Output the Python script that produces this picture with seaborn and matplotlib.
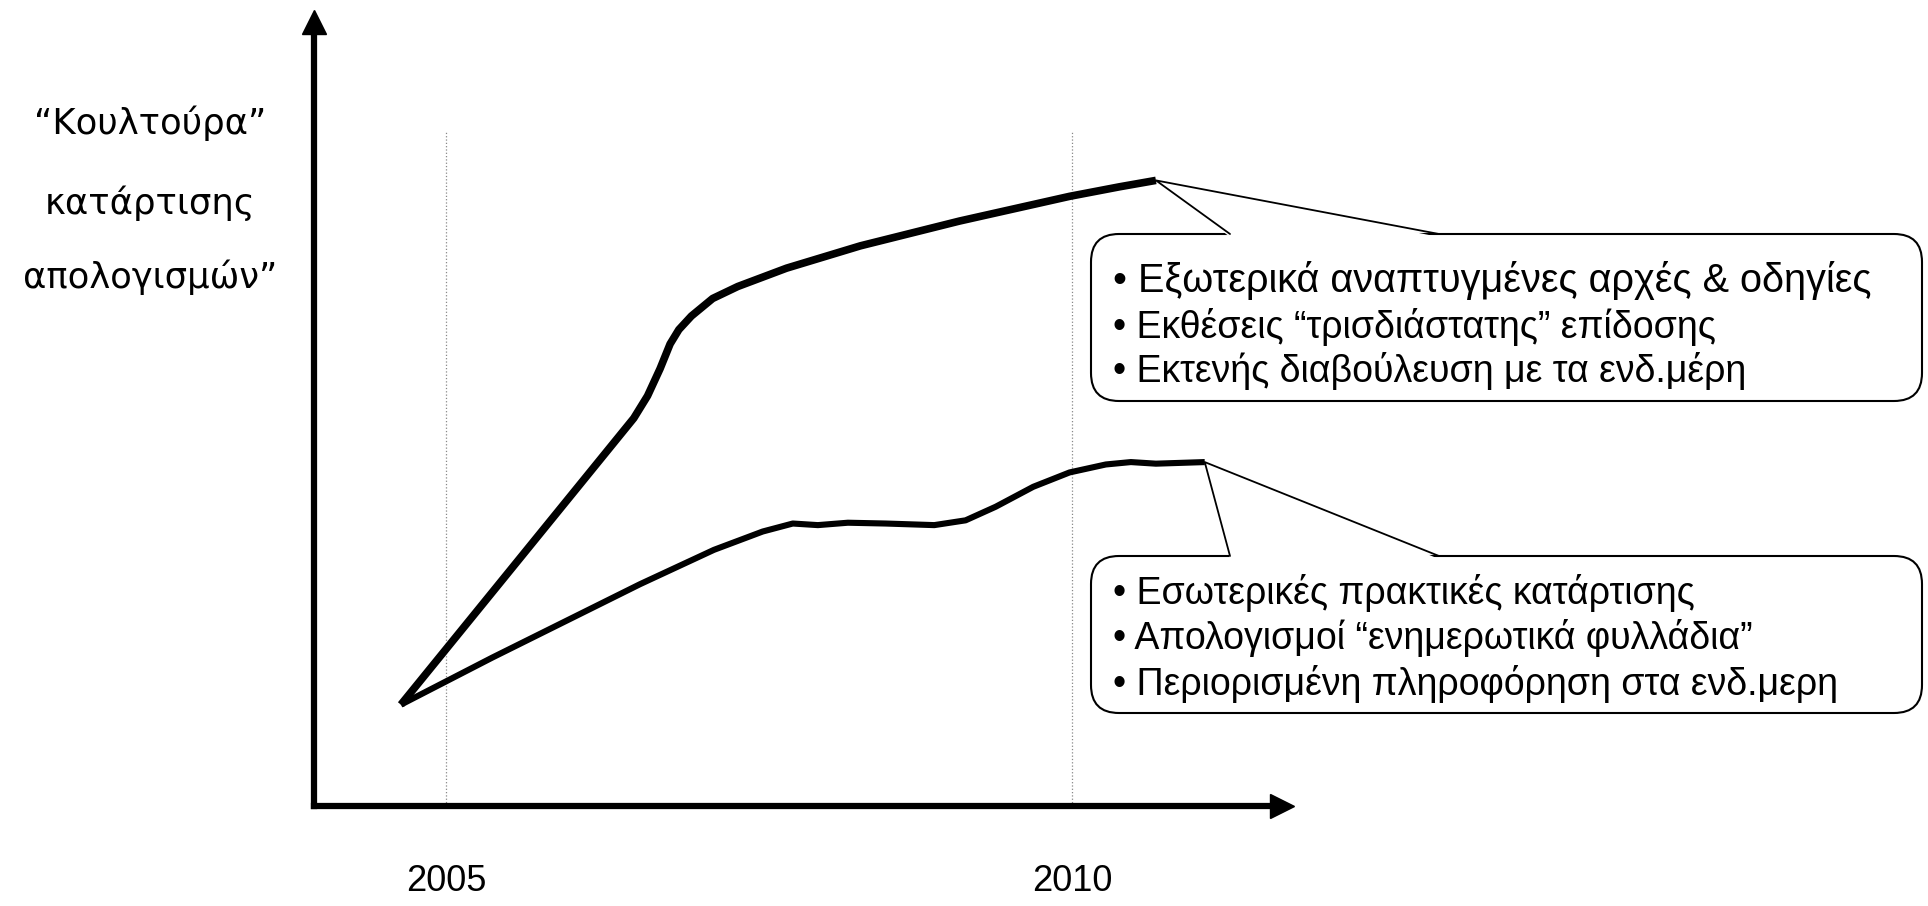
import numpy as np
import pandas as pd
import matplotlib
matplotlib.use('Agg')
import matplotlib.pyplot as plt
import seaborn as sns
from matplotlib.patches import FancyBboxPatch, Polygon

# data (year, level on an arbitrary 0-10 scale)
upper_year = [2004.64, 2006.50, 2006.61, 2006.71, 2006.79, 2006.86, 2006.96, 2007.13,
              2007.33, 2007.72, 2008.31, 2009.10, 2009.98, 2010.38, 2010.67]
upper_level = [1.27, 4.86, 5.14, 5.48, 5.79, 5.97, 6.14, 6.36,
               6.51, 6.74, 7.02, 7.33, 7.64, 7.76, 7.84]
lower_year = [2004.64, 2005.37, 2005.96, 2006.55, 2007.14, 2007.53, 2007.77, 2007.97,
              2008.21, 2008.51, 2008.90, 2009.15, 2009.39, 2009.69, 2009.98, 2010.27,
              2010.47, 2010.67, 2011.06]
lower_level = [1.27, 1.86, 2.32, 2.78, 3.21, 3.44, 3.54, 3.52,
               3.55, 3.54, 3.52, 3.58, 3.75, 4.00, 4.18, 4.28,
               4.31, 4.29, 4.31]
tick_years = [2005, 2010]
tick_labels = ['2005', '2010']
ylabel_lines = ['“Κουλτούρα”', 'κατάρτισης', 'απολογισμών”']
upper_notes = ['• Εξωτερικά αναπτυγμένες αρχές & οδηγίες',
               '• Εκθέσεις “τρισδιάστατης” επίδοσης',
               '• Εκτενής διαβούλευση με τα ενδ.μέρη']
lower_notes = ['• Εσωτερικές πρακτικές κατάρτισης',
               '• Απολογισμοί “ενημερωτικά φυλλάδια”',
               '• Περιορισμένη πληροφόρηση στα ενδ.μερη']

df_up = pd.DataFrame({'year': upper_year, 'level': upper_level})
df_low = pd.DataFrame({'year': lower_year, 'level': lower_level})

sns.set_theme(style='white')
plt.rcParams['font.family'] = ['Liberation Sans', 'DejaVu Sans']

W, H = 1928, 906
fig = plt.figure(figsize=(W / 100, H / 100), dpi=100)
fig.patch.set_facecolor('white')

# main axes: left spine at x=314px, bottom spine at y=806px
ax = fig.add_axes([314 / W, (H - 806) / H, (1282 - 314) / W, (806 - 22) / H])
ax.set_xlim(2003.946, 2011.677)
ax.set_ylim(0, 9.825)
ax.patch.set_alpha(0)

for yr in tick_years:
    ax.plot([yr, yr], [0, 8.46], color='#888888', lw=0.9, ls=':', zorder=1)

sns.lineplot(data=df_up, x='year', y='level', ax=ax, color='black', lw=5.5,
             sort=False, solid_joinstyle='round', solid_capstyle='butt', zorder=3)
sns.lineplot(data=df_low, x='year', y='level', ax=ax, color='black', lw=4.4,
             sort=False, solid_joinstyle='round', solid_capstyle='butt', zorder=3)

sns.despine(ax=ax, top=True, right=True)
for s in ['left', 'bottom']:
    ax.spines[s].set_linewidth(4.5)
    ax.spines[s].set_color('black')
ax.plot(1, 0, '>', color='black', ms=17, transform=ax.transAxes, clip_on=False)
ax.plot(0, 1, '^', color='black', ms=17, transform=ax.transAxes, clip_on=False)

ax.set_xticks(tick_years)
ax.set_xticklabels(tick_labels)
ax.set_yticks([])
ax.tick_params(axis='x', length=0, pad=42, labelsize=26, colors='black')
ax.set_xlabel('')
ax.set_ylabel('')

# overlay in pixel coords (top origin) for the callouts and the y label
ov = fig.add_axes([0, 0, 1, 1])
ov.set_xlim(0, W)
ov.set_ylim(H, 0)
ov.axis('off')
ov.patch.set_alpha(0)

for txt, yy in zip(ylabel_lines, [123, 203, 277]):
    ov.text(150, yy, txt, ha='center', va='center', fontsize=25.5,
            family=['DejaVu Sans'], color='black')


def callout(tip_xy, box, base, notes, rows, sizes):
    tx, ty = ax.transData.transform(tip_xy)
    ty = H - ty
    x0, y0, x1, y1 = box
    ov.add_patch(FancyBboxPatch((x0, y0), x1 - x0, y1 - y0,
                                boxstyle='round,pad=0,rounding_size=28',
                                fc='white', ec='black', lw=1.5, zorder=5))
    bx0, bx1 = base
    ov.add_patch(Polygon([(tx, ty), (bx0, y0 + 3), (bx1, y0 + 3)], closed=True,
                         fc='white', ec='none', zorder=6))
    ov.plot([bx0, tx, bx1], [y0, ty, y0], color='black', lw=1.3, zorder=7)
    for note, yy, fs in zip(notes, rows, sizes):
        ov.text(x0 + 22, yy, note, ha='left', va='center', fontsize=fs,
                color='black', zorder=8)


callout((upper_year[-1], upper_level[-1]), (1091, 234, 1922, 401), (1230, 1439),
        upper_notes, [280, 327, 371], [28.5, 27, 27])
callout((lower_year[-1], lower_level[-1]), (1091, 556, 1922, 713), (1230, 1439),
        lower_notes, [593, 638, 684], [27, 27, 27])

fig.savefig('out.png', dpi=100, facecolor='white')
